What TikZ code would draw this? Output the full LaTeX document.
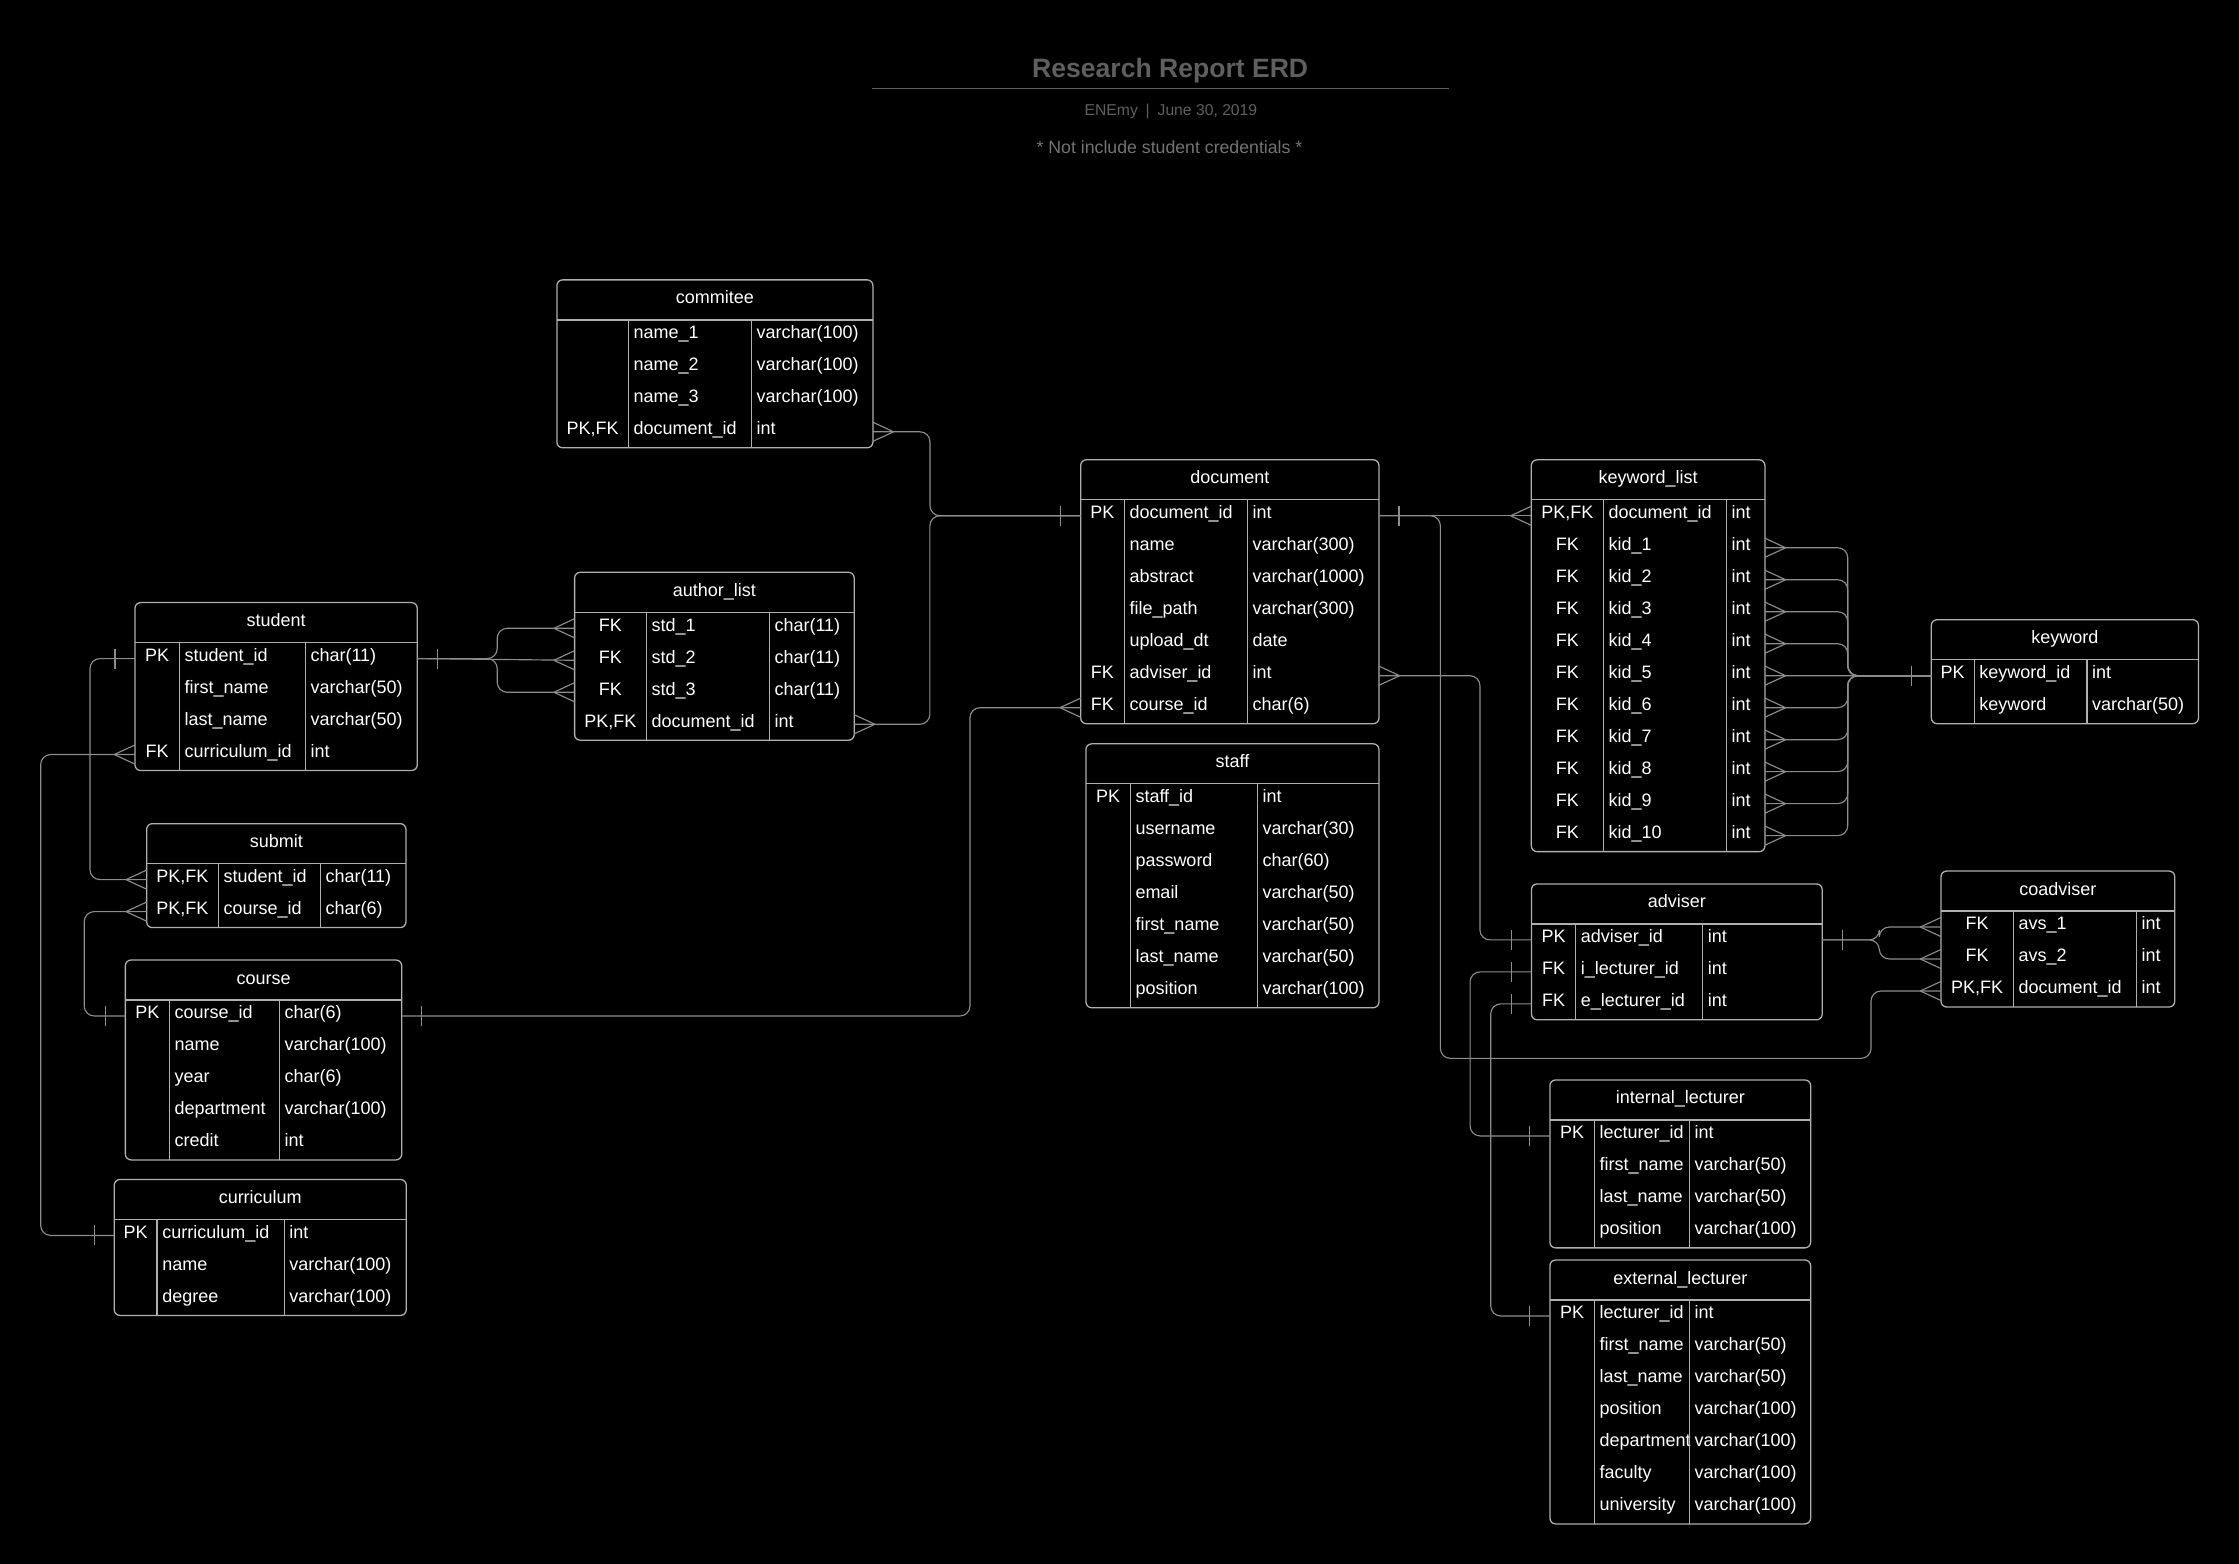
\documentclass[tikz,border=0pt]{standalone}
\usepackage{fontspec}
\setmainfont{Liberation Sans}
\usetikzlibrary{calc}
\definecolor{erdframe}{RGB}{175,175,175}
\definecolor{erdlink}{RGB}{140,140,140}
\definecolor{erdtitle}{RGB}{95,95,95}
\definecolor{erdnote}{RGB}{115,115,115}
\newcommand{\erdfont}{\fontsize{12.6}{15}\selectfont}
\tikzset{
  tabframe/.style={draw=erdframe, line width=0.9pt, rounded corners=4pt},
  tabrule/.style={draw=erdframe, line width=0.9pt},
  tabtitle/.style={anchor=base, inner sep=0pt, text=white},
  keytext/.style={anchor=base, inner sep=0pt, text=white},
  fieldtext/.style={anchor=base west, inner sep=0pt, text=white},
  erdline/.style={draw=erdlink, line width=0.8pt},
  link/.style={erdline, rounded corners=7pt},
  crowfoot/.pic={\draw[erdline] (14.5,0) -- (0,-6.7) (14.5,0) -- (0,6.7);},
  onebar/.pic={\draw[erdline] (14,-7) -- (14,7);},
}
% #1 name, #2 left, #3 top, #4 first divider, #5 second divider, #6 right, #7 title, #8 rows
\newcommand{\erdtable}[8]{%
  \node[tabtitle] (#1) at ({(#2+#6)/2},#3+16.8) {#7};
  \foreach \key/\fld/\typ [count=\i] in {#8} {
    \pgfmathsetmacro\rowy{#3+28+22.4*(\i-0.5)}
    \coordinate (#1-\i-w) at (#2,\rowy);
    \coordinate (#1-\i-e) at (#6,\rowy);
    \node[keytext] at ({(#2+#4)/2},\rowy+2) {\key};
    \node[fieldtext] at (#4+3.5,\rowy+2) {\fld};
    \node[fieldtext] at (#5+3.5,\rowy+2) {\typ};
    \xdef\nrows{\i}
  }
  \pgfmathsetmacro\boty{#3+28+22.4*\nrows}
  \draw[tabframe] (#2,#3) rectangle (#6,\boty);
  \draw[tabrule] (#2,#3+28) -- (#6,#3+28) (#4,#3+28) -- (#4,\boty) (#5,#3+28) -- (#5,\boty);
}

\begin{document}
\begin{tikzpicture}[x=1pt, y=-1pt, font=\erdfont]
\fill[black] (0,0) rectangle (1568,1095);
\useasboundingbox (0,0) rectangle (1568,1095);
% Heading
\node[font=\fontsize{18.6}{22}\selectfont\bfseries, text=erdtitle, anchor=base] (title) at (819.5,54.5) {Research Report ERD};
\draw[erdtitle, line width=1.2pt] (611,62) -- (1015,62);
\node[font=\fontsize{11}{13}\selectfont, text=erdtitle, anchor=base] (byline) at (820,81) {ENEmy\enspace|\enspace June 30, 2019};
\node[font=\fontsize{12.4}{15}\selectfont, text=erdnote, anchor=base] (note) at (819,107.5) {* Not include student credentials *};

% Left column: student side
\erdtable{student}{94.5}{422}{125.6}{213.8}{292.2}{student}{PK/student\_id/char(11), /first\_name/varchar(50), /last\_name/varchar(50), FK/curriculum\_id/int}
\erdtable{submit}{102.7}{576.8}{152.9}{224.3}{284.3}{submit}{{PK,FK}/student\_id/char(11), {PK,FK}/course\_id/char(6)}
\erdtable{course}{87.8}{672.3}{118.6}{195.6}{281.3}{course}{PK/course\_id/char(6), /name/varchar(100), /year/char(6), /department/varchar(100), /credit/int}
\erdtable{curriculum}{80}{826}{110}{199}{284.5}{curriculum}{PK/curriculum\_id/int, /name/varchar(100), /degree/varchar(100)}

% Middle: commitee, authors, document, staff
\erdtable{commitee}{390}{196}{440}{526.2}{611.3}{commitee}{/name\_1/varchar(100), /name\_2/varchar(100), /name\_3/varchar(100), {PK,FK}/document\_id/int}
\erdtable{authorlist}{402.4}{400.8}{452.6}{538.7}{598.2}{author\_list}{FK/std\_1/char(11), FK/std\_2/char(11), FK/std\_3/char(11), {PK,FK}/document\_id/int}
\erdtable{document}{756.8}{322}{787.3}{873.5}{965.7}{document}{PK/document\_id/int, /name/varchar(300), /abstract/varchar(1000), /file\_path/varchar(300), /upload\_dt/date, FK/adviser\_id/int, FK/course\_id/char(6)}
\erdtable{staff}{760.5}{520.9}{791.5}{880.5}{965.7}{staff}{PK/staff\_id/int, /username/varchar(30), /password/char(60), /email/varchar(50), /first\_name/varchar(50), /last\_name/varchar(50), /position/varchar(100)}

% Right: keywords and advisers
\erdtable{keywordlist}{1072.4}{322}{1122.8}{1208.9}{1236}{keyword\_list}{{PK,FK}/document\_id/int, FK/kid\_1/int, FK/kid\_2/int, FK/kid\_3/int, FK/kid\_4/int, FK/kid\_5/int, FK/kid\_6/int, FK/kid\_7/int, FK/kid\_8/int, FK/kid\_9/int, FK/kid\_10/int}
\erdtable{keyword}{1352.5}{434}{1382.5}{1461.5}{1539.6}{keyword}{PK/keyword\_id/int, /keyword/varchar(50)}
\erdtable{adviser}{1072.5}{619}{1103.4}{1192.3}{1276.1}{adviser}{PK/adviser\_id/int, FK/i\_lecturer\_id/int, FK/e\_lecturer\_id/int}
\erdtable{coadviser}{1359.3}{610}{1409.9}{1496.1}{1523}{coadviser}{FK/avs\_1/int, FK/avs\_2/int, {PK,FK}/document\_id/int}
\erdtable{internal}{1085.4}{756.3}{1116.5}{1183}{1268}{internal\_lecturer}{PK/lecturer\_id/int, /first\_name/varchar(50), /last\_name/varchar(50), /position/varchar(100)}
\erdtable{external}{1085.4}{882.4}{1116.5}{1183}{1268}{external\_lecturer}{PK/lecturer\_id/int, /first\_name/varchar(50), /last\_name/varchar(50), /position/varchar(100), /department/varchar(100), /faculty/varchar(100), /university/varchar(100)}

% Relations into document
\draw[link] (commitee-4-e) -- ++(40,0) |- (document-1-w);
\draw[link] (authorlist-4-e) -- ++(53,0) |- (document-1-w);
\pic at (commitee-4-e) {crowfoot};
\pic at (authorlist-4-e) {crowfoot};
\pic[xscale=-1] at (document-1-w) {onebar};
\draw[link] (course-1-e) -- ++(398,0) |- (document-7-w);
\pic at (course-1-e) {onebar};
\pic[xscale=-1] at (document-7-w) {crowfoot};

% Student relations
\draw[link] (student-1-e) -- ++(56,0) |- (authorlist-1-w);
\draw[link] (student-1-e) -- (authorlist-2-w);
\draw[link] (student-1-e) -- ++(56,0) |- (authorlist-3-w);
\pic at (student-1-e) {onebar};
\foreach \r in {1,2,3} \pic[xscale=-1] at (authorlist-\r-w) {crowfoot};
\draw[link] (student-1-w) -- ++(-31.5,0) |- (submit-1-w);
\pic[xscale=-1] at (student-1-w) {onebar};
\pic[xscale=-1] at (submit-1-w) {crowfoot};
\draw[link] (student-4-w) -- ++(-66,0) |- (curriculum-1-w);
\pic[xscale=-1] at (student-4-w) {crowfoot};
\pic[xscale=-1] at (curriculum-1-w) {onebar};
\draw[link] (submit-2-w) -- ++(-43.7,0) |- (course-1-w);
\pic[xscale=-1] at (submit-2-w) {crowfoot};
\pic[xscale=-1] at (course-1-w) {onebar};

% Document to the right side
\draw[link] (document-1-e) -- (keywordlist-1-w);
\pic at (document-1-e) {onebar};
\pic[xscale=-1] at (keywordlist-1-w) {crowfoot};
\draw[link] (document-1-e) -- ++(43,0) |- ++(301.6,380) |- (coadviser-3-w);
\pic[xscale=-1] at (coadviser-3-w) {crowfoot};
\draw[link] (document-6-e) -- ++(70.7,0) |- (adviser-1-w);
\pic at (document-6-e) {crowfoot};
\pic[xscale=-1] at (adviser-1-w) {onebar};

% Keyword list to keyword
\foreach \r in {2,3,4,5,7,8,9,10,11} \draw[link] (keywordlist-\r-e) -- ++(58,0) |- (keyword-1-w);
\draw[link] (keywordlist-6-e) -- (keyword-1-w);
\foreach \r in {2,...,11} \pic at (keywordlist-\r-e) {crowfoot};
\pic[xscale=-1] at (keyword-1-w) {onebar};

% Adviser relations
\draw[link] (adviser-1-e) -- ++(40,0) |- (coadviser-1-w);
\draw[link] (adviser-1-e) -- ++(40,0) |- (coadviser-2-w);
\pic at (adviser-1-e) {onebar};
\pic[xscale=-1] at (coadviser-1-w) {crowfoot};
\pic[xscale=-1] at (coadviser-2-w) {crowfoot};
\draw[link] (adviser-2-w) -- ++(-43,0) |- (internal-1-w);
\pic[xscale=-1] at (adviser-2-w) {onebar};
\pic[xscale=-1] at (internal-1-w) {onebar};
\draw[link] (adviser-3-w) -- ++(-28.5,0) |- (external-1-w);
\pic[xscale=-1] at (adviser-3-w) {onebar};
\pic[xscale=-1] at (external-1-w) {onebar};
\end{tikzpicture}
\end{document}
